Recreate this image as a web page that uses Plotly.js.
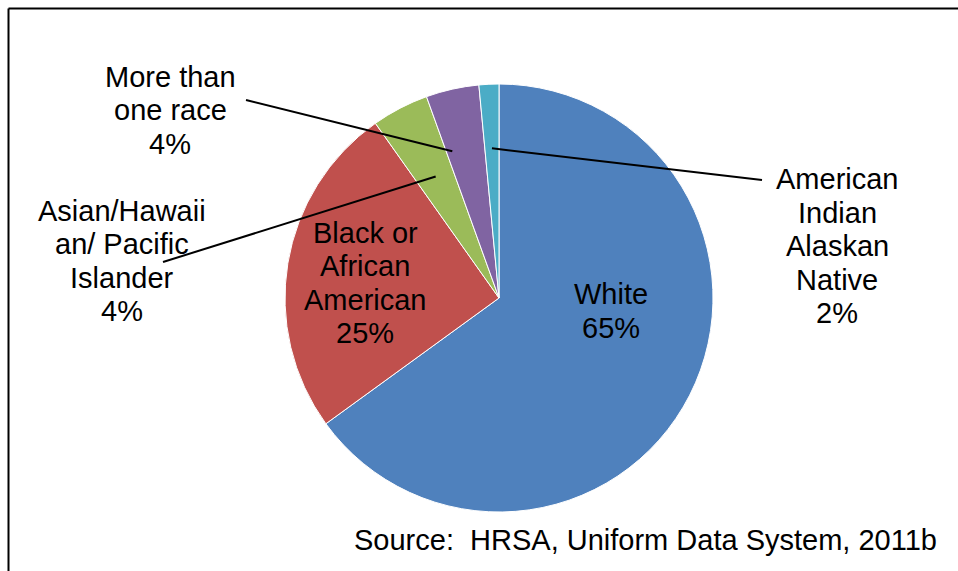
<!DOCTYPE html>
<html>
<head>
<meta charset="utf-8">
<script src="https://cdn.plot.ly/plotly-3.0.1.min.js"></script>
<style>
  html, body { margin: 0; padding: 0; background: #ffffff; }
  #chart { width: 958px; height: 571px; }
</style>
</head>
<body>
<div id="chart"></div>
<script>
// ---- data ----
const categories = ["White", "Black or African American", "Asian/Hawaiian/ Pacific Islander", "More than one race", "American Indian Alaskan Native"];
const labelLines = [
  ["White"],
  ["Black or", "African", "American"],
  ["Asian/Hawaii", "an/ Pacific", "Islander"],
  ["More than", "one race"],
  ["American", "Indian", "Alaskan", "Native"]
];
const values = [65.0, 25.2, 4.3, 4.0, 1.5];
const colors = ["#4F81BD", "#C0504D", "#9BBB59", "#8064A2", "#4BACC6"];
const sourceText = "Source: \u00a0HRSA, Uniform Data System, 2011b";

// ---- layout geometry (pixels) ----
const W = 958, H = 571;
const CX = 499, CY = 298, R = 214;
const FONT = "'Liberation Sans', Arial, sans-serif";
const FS = 29, LH = 33.5;
// label centres (pixels) and leader-line outer ends (null = label inside slice)
const labelPos = [[611, 311], [365, 283], [122, 261], [170, 110], [837, 246]];
const leaderOuter = [null, null, [163, 262], [246, 100], [762, 180]];
const leaderAt = [null, null, [0.5, 0.64], [0.15, 0.72], [0.5, 0.70]]; // [position within slice, radius fraction]

const px = x => x / W;
const py = y => 1 - y / H;

const total = values.reduce((a, b) => a + b, 0);
const annotations = [];
const shapes = [];
let cum = 0;
values.forEach((v, i) => {
  const pct = Math.round(v / total * 100) + "%";
  const lines = labelLines[i].concat([pct]);
  const n = lines.length;
  lines.forEach((t, k) => {
    annotations.push({
      xref: "paper", yref: "paper",
      x: px(labelPos[i][0]), y: py(labelPos[i][1] + (k - (n - 1) / 2) * LH),
      xanchor: "center", yanchor: "middle",
      text: t, showarrow: false,
      font: { family: FONT, size: FS, color: "#000000" }
    });
  });
  if (leaderOuter[i]) {
    const frac = (cum + v * leaderAt[i][0]) / total;
    const ang = frac * 2 * Math.PI;
    const ix = CX + Math.sin(ang) * R * leaderAt[i][1];
    const iy = CY - Math.cos(ang) * R * leaderAt[i][1];
    shapes.push({
      type: "line", xref: "paper", yref: "paper",
      x0: px(leaderOuter[i][0]), y0: py(leaderOuter[i][1]),
      x1: px(ix), y1: py(iy),
      line: { color: "#000000", width: 2 }
    });
  }
  cum += v;
});

annotations.push({
  xref: "paper", yref: "paper",
  x: px(352), y: py(540), xanchor: "left", yanchor: "middle",
  text: sourceText, showarrow: false,
  font: { family: FONT, size: FS, color: "#000000" }
});

// frame (top and left edges visible)
shapes.push({ type: "line", xref: "paper", yref: "paper", x0: px(8.5), y0: py(8.5), x1: px(W + 2), y1: py(8.5), line: { color: "#000000", width: 2 } });
shapes.push({ type: "line", xref: "paper", yref: "paper", x0: px(8.5), y0: py(8.5), x1: px(8.5), y1: py(H + 2), line: { color: "#000000", width: 2 } });

const trace = {
  type: "pie",
  labels: categories,
  values: values,
  sort: false,
  direction: "clockwise",
  rotation: 0,
  textinfo: "none",
  hoverinfo: "label+percent",
  marker: { colors: colors, line: { color: "#ffffff", width: 1 } },
  domain: { x: [px(CX - R), px(CX + R)], y: [py(CY + R), py(CY - R)] },
  showlegend: false
};

const layout = {
  width: W, height: H,
  margin: { l: 0, r: 0, t: 0, b: 0 },
  paper_bgcolor: "#ffffff",
  plot_bgcolor: "#ffffff",
  showlegend: false,
  annotations: annotations,
  shapes: shapes
};

Plotly.newPlot("chart", [trace], layout, { displayModeBar: false, staticPlot: true });
</script>
</body>
</html>
